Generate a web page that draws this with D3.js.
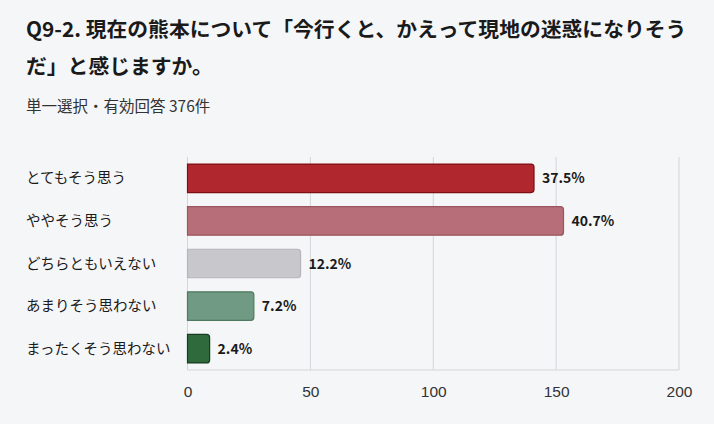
<!DOCTYPE html>
<html>
<head>
<meta charset="utf-8">
<script src="https://cdn.jsdelivr.net/npm/d3@7"></script>
<style>
    body { margin: 0; background: #f5f6f8; font-family: "Noto Sans CJK JP", "Noto Sans", sans-serif; }
</style>
</head>
<body>
<div id="chart-area"></div>
<script>
var categories = ["とてもそう思う", "ややそう思う", "どちらともいえない", "あまりそう思わない", "まったくそう思わない"];
var counts = [141, 153, 46, 27, 9];
var percents = ["37.5%", "40.7%", "12.2%", "7.2%", "2.4%"];
var fills = ["#b0272e", "#b86e78", "#c8c8cc", "#709a83", "#2f6a3c"];
var strokes = ["#7e1015", "#9a5560", "#b5b5ba", "#4f7a60", "#163d1f"];
var xTicks = [0, 50, 100, 150, 200];

var W = 714, H = 424;
var margin = {left: 187.5, right: 35, top: 157, bottom: 54};
var width = W - margin.left - margin.right;
var height = H - margin.top - margin.bottom;

var svg = d3.select("#chart-area").append("svg")
    .attr("width", W)
    .attr("height", H);

svg.append("rect").attr("width", W).attr("height", H).attr("fill", "#f5f6f8");

// title
var title = svg.append("text")
    .attr("x", 26)
    .attr("font-size", "20.8px")
    .attr("font-weight", "bold")
    .attr("fill", "#1a1a1a");
title.append("tspan").attr("x", 26).attr("y", 37).text("Q9-2. 現在の熊本について「今行くと、かえって現地の迷惑になりそう");
title.append("tspan").attr("x", 26).attr("y", 74).text("だ」と感じますか。");

svg.append("text")
    .attr("x", 26)
    .attr("y", 112)
    .attr("font-size", "15.5px")
    .attr("fill", "#333")
    .text("単一選択・有効回答 376件");

var g = svg.append("g")
    .attr("transform", "translate(" + margin.left + "," + margin.top + ")");

var x = d3.scaleLinear()
    .range([0, width])
    .domain([0, 200]);

var y = d3.scaleBand()
    .range([0, height])
    .domain(categories)
    .paddingInner(0.33)
    .paddingOuter(0.165);

// grid
g.selectAll(".grid")
    .data(xTicks)
    .enter().append("line")
    .attr("class", "grid")
    .attr("x1", function(d) { return x(d); })
    .attr("x2", function(d) { return x(d); })
    .attr("y1", 0)
    .attr("y2", height)
    .attr("stroke", "#d4d5d8")
    .attr("stroke-width", 1);

g.append("line")
    .attr("x1", 0).attr("x2", width)
    .attr("y1", height).attr("y2", height)
    .attr("stroke", "#d4d5d8");

var xAxisCall = d3.axisBottom(x)
    .tickValues(xTicks)
    .tickSize(0)
    .tickPadding(16);
var xAxis = g.append("g")
    .attr("class", "x-axis")
    .attr("transform", "translate(0," + height + ")")
    .call(xAxisCall);
xAxis.select(".domain").remove();
xAxis.selectAll("text")
    .attr("font-size", "15.5px")
    .attr("font-family", "Liberation Sans, Arial, sans-serif")
    .attr("fill", "#333");

var data = categories.map(function(c, i) {
    return {cat: c, n: counts[i], pct: percents[i], fill: fills[i], stroke: strokes[i]};
});

// bars with rounded right end
function barPath(d) {
    var x0 = x(0), x1 = x(d.n), y0 = y(d.cat), h = y.bandwidth();
    var r = Math.min(3, (x1 - x0) / 2);
    return "M" + x0 + "," + y0 +
        "H" + (x1 - r) +
        "Q" + x1 + "," + y0 + " " + x1 + "," + (y0 + r) +
        "V" + (y0 + h - r) +
        "Q" + x1 + "," + (y0 + h) + " " + (x1 - r) + "," + (y0 + h) +
        "H" + x0 + "Z";
}

g.selectAll(".bar")
    .data(data)
    .enter().append("path")
    .attr("class", "bar")
    .attr("d", barPath)
    .attr("fill", function(d) { return d.fill; })
    .attr("stroke", function(d) { return d.stroke; })
    .attr("stroke-width", 1.2);

g.selectAll(".val")
    .data(data)
    .enter().append("text")
    .attr("class", "val")
    .attr("x", function(d) { return x(d.n) + 8; })
    .attr("y", function(d) { return y(d.cat) + y.bandwidth() / 2; })
    .attr("dy", "0.36em")
    .attr("font-size", "14px")
    .attr("font-weight", "bold")
    .attr("fill", "#1a1a1a")
    .text(function(d) { return d.pct; });

svg.selectAll(".cat")
    .data(data)
    .enter().append("text")
    .attr("class", "cat")
    .attr("x", 26)
    .attr("y", function(d) { return margin.top + y(d.cat) + y.bandwidth() / 2; })
    .attr("dy", "0.35em")
    .attr("font-size", "14.5px")
    .attr("fill", "#1a1a1a")
    .text(function(d) { return d.cat; });
</script>
</body>
</html>
